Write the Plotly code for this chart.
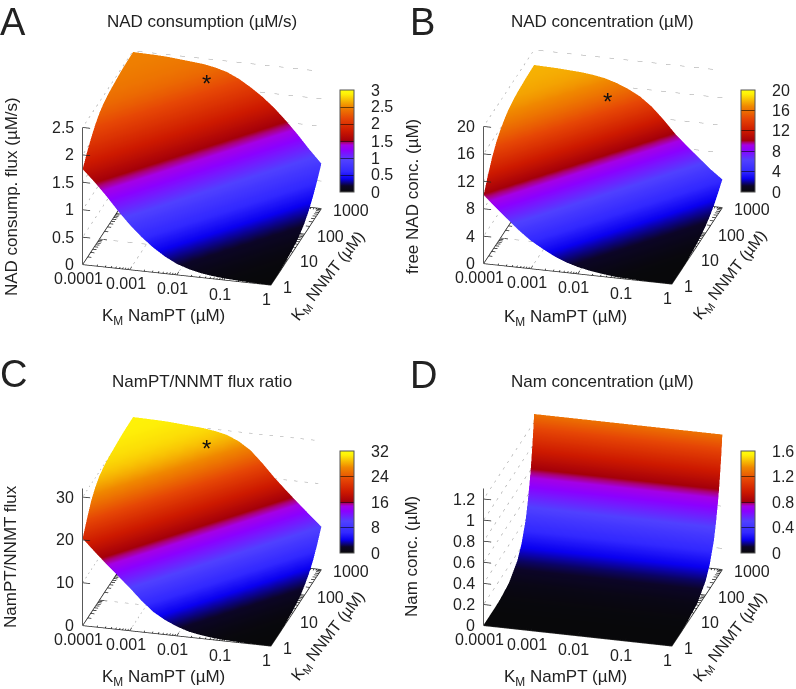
import math
import plotly.graph_objects as go

W, H = 796, 689
# Grid of the two half-saturation constants (quarter-decade steps)
km_nampt = [1e-4, 1.78e-4, 3.16e-4, 5.62e-4, 1e-3, 1.78e-3, 3.16e-3, 5.62e-3, 0.01,
            0.0178, 0.0316, 0.0562, 0.1, 0.178, 0.316, 0.562, 1]
km_nnmt = [1, 1.78, 3.16, 5.62, 10, 17.8, 31.6, 56.2, 100, 178, 316, 562, 1000]
km_nnmt_d = [1, 3.16, 10, 31.6, 100, 178, 316, 420, 562, 650, 750, 870, 1000]
km_nampt_d = [1e-4, 1]

# Values read off the surfaces: the surfaces are ridged along the diagonal, so each is
# stored as its profile going from corner (KM NamPT = 1, KM NNMT = 1) to (0.0001, 1000).
nad_flux_profile = [0.003, 0.006, 0.01, 0.018, 0.03, 0.05, 0.08, 0.13, 0.2, 0.31, 0.45, 0.62, 0.82, 1.05, 1.3,
                    1.53, 1.74, 1.92, 2.07, 2.2, 2.3, 2.36, 2.4, 2.42, 2.44, 2.46, 2.47, 2.475, 2.48]
nad_conc_profile = [0.01, 0.02, 0.03, 0.06, 0.1, 0.2, 0.4, 0.65, 1.0, 1.5, 2.2, 3.1, 4.1, 5.4, 6.9,
                    8.4, 10.0, 11.9, 13.6, 14.9, 15.8, 16.5, 17.0, 17.3, 17.5, 17.6, 17.7, 17.75, 17.8]
flux_ratio_profile = [0.03, 0.05, 0.08, 0.14, 0.25, 0.45, 0.8, 1.3, 2.2, 3.4, 5.0, 7.3, 10.0, 12.5, 15.0,
                      17.6, 20.3, 23.3, 26.0, 27.8, 29.0, 29.6, 30.0, 30.2, 30.4, 30.6, 30.7, 30.75, 30.8]
nam_by_nnmt = [0.0013, 0.004, 0.013, 0.04, 0.13, 0.23, 0.40, 0.54, 0.72, 0.83, 0.96, 1.11, 1.28]

x_ticks = [1e-4, 1e-3, 0.01, 0.1, 1]
x_ticktext = ["0.0001", "0.001", "0.01", "0.1", "1"]
y_ticks = [1, 10, 100, 1000]
y_ticktext = ["1", "10", "100", "1000"]
minor_mult = [2, 3, 4, 5, 6, 7, 8, 9]

PALETTE = [
 (0.00, "rgb(8,8,10)"), (0.06, "rgb(12,5,40)"), (0.13, "rgb(10,0,240)"), (0.20, "rgb(50,40,255)"),
 (0.31, "rgb(80,65,255)"), (0.41, "rgb(140,0,255)"), (0.46, "rgb(165,0,230)"), (0.485, "rgb(170,0,120)"),
 (0.505, "rgb(165,0,10)"), (0.60, "rgb(205,25,0)"), (0.72, "rgb(230,70,5)"), (0.84, "rgb(240,135,0)"),
 (0.92, "rgb(250,205,5)"), (0.96, "rgb(254,240,8)"), (1.00, "rgb(255,255,10)"),
]
FONT = "Liberation Sans"
INK = "#222222"
EYE = (0.2364, -0.8824, 0.4067)
R = 1.54
DOMAIN = 300
ASPECT = 1.3
BAR_LEN = 102
BAR_W = 14


def grid_from_profile(profile):
    nx, ny = len(km_nampt), len(km_nnmt)
    return [[profile[j + nx - 1 - i] for i in range(nx)] for j in range(ny)]


def frame_lines(z_ticks, zmax):
    """Solid base frame, z axis and ticks; dotted grid - all in data coordinates."""
    xa, xb, ya, yb = x_ticks[0], x_ticks[-1], y_ticks[0], y_ticks[-1]
    sx, sy, sz = [], [], []
    def seg(p, q):
        for a, b, c in (p, q, (None, None, None)):
            sx.append(a); sy.append(b); sz.append(c)
    seg((xa, ya, 0), (xb, ya, 0)); seg((xb, ya, 0), (xb, yb, 0))
    seg((xb, yb, 0), (xa, yb, 0)); seg((xa, yb, 0), (xa, ya, 0))
    seg((xa, ya, 0), (xa, ya, zmax))
    for t in x_ticks:
        seg((t, ya, 0), (t, ya * 10 ** 0.12, 0)); seg((t, yb, 0), (t, yb / 10 ** 0.12, 0))
        if t < xb:
            for m in minor_mult:
                seg((t * m, ya, 0), (t * m, ya * 10 ** 0.06, 0)); seg((t * m, yb, 0), (t * m, yb / 10 ** 0.06, 0))
    for t in y_ticks:
        seg((xa, t, 0), (xa * 10 ** 0.16, t, 0)); seg((xb, t, 0), (xb / 10 ** 0.16, t, 0))
        if t < yb:
            for m in minor_mult:
                seg((xa, t * m, 0), (xa * 10 ** 0.08, t * m, 0)); seg((xb, t * m, 0), (xb / 10 ** 0.08, t * m, 0))
    for t in z_ticks:
        seg((xa, ya, t), (xa * 10 ** 0.16, ya, t))
    dx, dy, dz = [], [], []
    def dseg(p, q):
        for a, b, c in (p, q, (None, None, None)):
            dx.append(a); dy.append(b); dz.append(c)
    for t in x_ticks[1:-1]:
        dseg((t, ya, 0), (t, yb, 0))
    for t in y_ticks[1:-1]:
        dseg((xa, t, 0), (xb, t, 0))
    for t in z_ticks[1:]:
        dseg((xa, ya, t), (xa, yb, t)); dseg((xa, yb, t), (xb, yb, t))
    return (sx, sy, sz), (dx, dy, dz)


def scene_annotations(z_ticks, z_text, star):
    out = []
    f = dict(family=FONT, size=16, color=INK)
    for t, s in zip(x_ticks, x_ticktext):
        out.append(dict(x=math.log10(t), y=0, z=0, text=s, showarrow=False, xshift=-4, yshift=-14, font=f))
    for t, s in zip(y_ticks, y_ticktext):
        out.append(dict(x=0, y=math.log10(t), z=0, text=s, showarrow=False, xanchor="left", xshift=10, yshift=-2, font=f))
    for t, s in zip(z_ticks, z_text):
        out.append(dict(x=-4, y=0, z=t, text=s, showarrow=False, xanchor="right", xshift=-7, font=f))
    if star:
        out.append(dict(x=math.log10(star[0]), y=math.log10(star[1]), z=star[2], text="*", showarrow=False,
                        font=dict(family=FONT, size=24, color="#111111"), xshift=-1, yshift=-2))
    return out


PANELS = [
 dict(name="scene", cx=202, cy=168, x=km_nampt, y=km_nnmt, z=grid_from_profile(nad_flux_profile), zmax=2.5, cmax=3,
      z_ticks=[0, .5, 1, 1.5, 2, 2.5], z_text=["0", "0.5", "1", "1.5", "2", "2.5"],
      c_ticks=[0, .5, 1, 1.5, 2, 2.5, 3], c_text=["0", "0.5", "1", "1.5", "2", "2.5", "3"],
      bar=(340, 192), star=(0.005, 450, 2.27)),
 dict(name="scene2", cx=603, cy=167, x=km_nampt, y=km_nnmt, z=grid_from_profile(nad_conc_profile), zmax=20, cmax=20,
      z_ticks=[0, 4, 8, 12, 16, 20], z_text=["0", "4", "8", "12", "16", "20"],
      c_ticks=[0, 4, 8, 12, 16, 20], c_text=["0", "4", "8", "12", "16", "20"],
      bar=(741, 192), star=(0.005, 450, 15.3)),
 dict(name="scene3", cx=202, cy=529, x=km_nampt, y=km_nnmt, z=grid_from_profile(flux_ratio_profile), zmax=32, cmax=32,
      z_ticks=[0, 10, 20, 30], z_text=["0", "10", "20", "30"],
      c_ticks=[0, 8, 16, 24, 32], c_text=["0", "8", "16", "24", "32"],
      bar=(340, 553), star=(0.005, 450, 28)),
 dict(name="scene4", cx=603, cy=529, x=km_nampt_d, y=km_nnmt_d, z=[[v, v] for v in nam_by_nnmt], zmax=1.3, cmax=1.6,
      z_ticks=[0, .2, .4, .6, .8, 1, 1.2], z_text=["0", "0.2", "0.4", "0.6", "0.8", "1", "1.2"],
      c_ticks=[0, .4, .8, 1.2, 1.6], c_text=["0", "0.4", "0.8", "1.2", "1.6"],
      bar=(741, 553), star=None),
]

fig = go.Figure()
layout = dict(width=W, height=H, autosize=False, margin=dict(l=0, r=0, t=0, b=0), paper_bgcolor="white", showlegend=False)
bar_labels = []

for p in PANELS:
    fig.add_trace(go.Surface(
        x=p["x"], y=p["y"], z=p["z"], cmin=0, cmax=p["cmax"], colorscale=PALETTE, scene=p["name"],
        lighting=dict(ambient=1, diffuse=0, specular=0, roughness=1, fresnel=0), hoverinfo="skip",
        colorbar=dict(x=p["bar"][0] / W, xanchor="left", y=1 - p["bar"][1] / H, yanchor="bottom", xpad=0, ypad=0,
                      lenmode="pixels", len=BAR_LEN, thicknessmode="pixels", thickness=BAR_W,
                      tickmode="array", tickvals=p["c_ticks"], showticklabels=False, ticks="inside", ticklen=BAR_W,
                      tickcolor="rgba(0,0,0,0.55)", tickwidth=1, outlinecolor="#555555", outlinewidth=1),
    ))
    for v, s in zip(p["c_ticks"], p["c_text"]):
        bar_labels.append(dict(text=s, x=(p["bar"][0] + 29) / W, y=1 - (p["bar"][1] - BAR_LEN * v / p["cmax"]) / H,
                               xref="paper", yref="paper", showarrow=False, xanchor="left", yanchor="middle",
                               font=dict(family=FONT, size=16, color=INK)))
    solid, dotted = frame_lines(p["z_ticks"], p["zmax"])
    fig.add_trace(go.Scatter3d(x=dotted[0], y=dotted[1], z=dotted[2], mode="lines", scene=p["name"], hoverinfo="skip",
                               line=dict(color="#9a9a9a", width=1, dash="dot"), connectgaps=False))
    fig.add_trace(go.Scatter3d(x=solid[0], y=solid[1], z=solid[2], mode="lines", scene=p["name"], hoverinfo="skip",
                               line=dict(color="#222222", width=1.5), connectgaps=False))
    hidden = dict(visible=False)
    layout[p["name"]] = dict(
        domain=dict(x=[(p["cx"] - DOMAIN / 2) / W, (p["cx"] + DOMAIN / 2) / W],
                    y=[1 - (p["cy"] + DOMAIN / 2) / H, 1 - (p["cy"] - DOMAIN / 2) / H]),
        xaxis=dict(type="log", range=[-4, 0], **hidden),
        yaxis=dict(type="log", range=[0, 3], **hidden),
        zaxis=dict(range=[0, p["zmax"]], **hidden),
        aspectmode="manual", aspectratio=dict(x=ASPECT, y=ASPECT, z=0.77 * ASPECT), bgcolor="rgba(0,0,0,0)",
        camera=dict(projection=dict(type="orthographic"), up=dict(x=0, y=0, z=1), center=dict(x=0, y=0, z=0),
                    eye=dict(x=EYE[0] * R, y=EYE[1] * R, z=EYE[2] * R)),
        annotations=scene_annotations(p["z_ticks"], p["z_text"], p["star"]),
    )

texts = [
 ("A", 13, 22, 38, 0), ("B", 422, 22, 38, 0), ("C", 13, 374, 38, 0), ("D", 423, 375, 38, 0),
 ("NAD consumption (µM/s)", 202, 21, 17, 0), ("NAD concentration (µM)", 602, 21, 17, 0),
 ("NamPT/NNMT flux ratio", 202, 381, 17, 0), ("Nam concentration (µM)", 602, 381, 17, 0),
 ("NAD consump. flux (µM/s)", 12, 197, 17, -90), ("free NAD conc. (µM)", 413, 197, 17, -90),
 ("NamPT/NNMT flux", 10, 557, 17, -90), ("Nam conc. (µM)", 411, 557, 17, -90),
 ("K<sub>M</sub> NamPT (µM)", 163, 317, 17, 0), ("K<sub>M</sub> NamPT (µM)", 565, 318, 17, 0),
 ("K<sub>M</sub> NamPT (µM)", 163, 678, 17, 0), ("K<sub>M</sub> NamPT (µM)", 565, 678, 17, 0),
 ("K<sub>M</sub> NNMT (µM)", 328, 276, 16, -52), ("K<sub>M</sub> NNMT (µM)", 730, 275, 16, -52),
 ("K<sub>M</sub> NNMT (µM)", 328, 636, 16, -52), ("K<sub>M</sub> NNMT (µM)", 730, 637, 16, -52),
]
layout["annotations"] = [
    dict(text=t, x=px / W, y=1 - py / H, xref="paper", yref="paper", showarrow=False, textangle=a,
         font=dict(family=FONT, size=s, color=INK), xanchor="center", yanchor="middle")
    for t, px, py, s, a in texts
] + bar_labels
fig.update_layout(**layout)
fig.write_html("out.html", post_script="document.body.style.margin='0';", config=dict(displayModeBar=False))
